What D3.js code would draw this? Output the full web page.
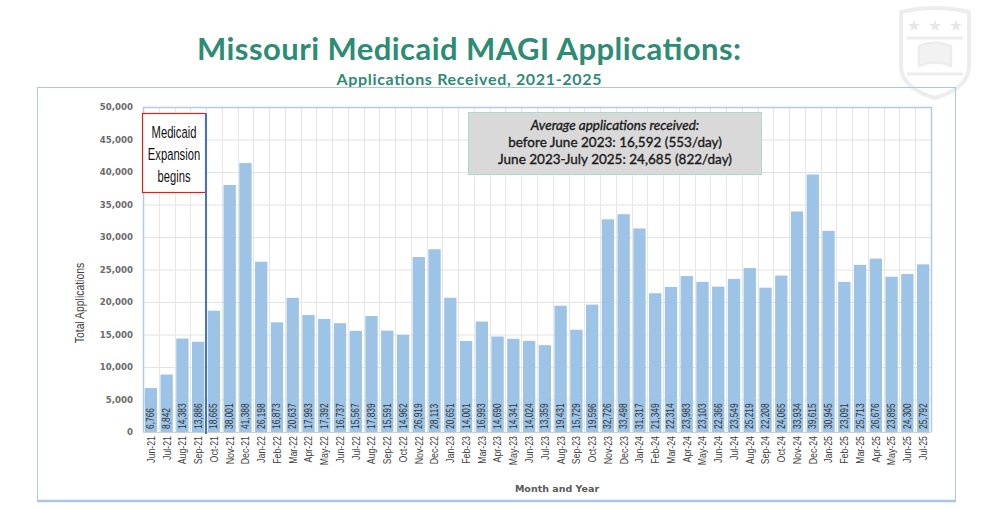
<!DOCTYPE html>
<html>
<head>
<meta charset="utf-8">
<script src="https://cdn.jsdelivr.net/npm/d3@7"></script>
<style>
  body { margin: 0; background: #fff; }
  svg { display: block; }
</style>
</head>
<body>
<svg id="chart" width="988" height="510"></svg>
<script>
// chart data
var months = ["Jun-21","Jul-21","Aug-21","Sep-21","Oct-21","Nov-21","Dec-21",
  "Jan-22","Feb-22","Mar-22","Apr-22","May-22","Jun-22","Jul-22","Aug-22","Sep-22","Oct-22","Nov-22","Dec-22",
  "Jan-23","Feb-23","Mar-23","Apr-23","May-23","Jun-23","Jul-23","Aug-23","Sep-23","Oct-23","Nov-23","Dec-23",
  "Jan-24","Feb-24","Mar-24","Apr-24","May-24","Jun-24","Jul-24","Aug-24","Sep-24","Oct-24","Nov-24","Dec-24",
  "Jan-25","Feb-25","Mar-25","Apr-25","May-25","Jun-25","Jul-25"];
var applications = [6766,8842,14383,13886,18665,38001,41388,
  26198,16873,20637,17993,17392,16737,15567,17839,15591,14962,26919,28113,
  20651,14001,16993,14690,14341,14024,13359,19431,15729,19596,32726,33498,
  31317,21349,22314,23983,23103,22366,23549,25219,22208,24065,33934,39615,
  30945,23091,25713,26676,23895,24300,25792];
var yTicks = [0,5000,10000,15000,20000,25000,30000,35000,40000,45000,50000];
var expansionMonth = "Oct-21";
var expansionLines = ["Medicaid","Expansion","begins"];
var avgLines = ["Average applications received:",
  "before June 2023: 16,592 (553/day)",
  "June 2023-July 2025: 24,685 (822/day)"];

// no narrow font here, so squeeze Liberation Sans horizontally
var narrow = "'Liberation Sans', Arial, sans-serif";
var squeeze = " scale(0.8,1)";
var svg = d3.select("#chart");

// faint logo top right
var logo = svg.append("g").attr("transform", "translate(897,6)")
  .attr("fill", "none").attr("stroke", "#ededed").attr("stroke-width", 4);
logo.append("path").attr("d", "M4,6 Q38,-2 72,6 L72,60 Q72,82 38,92 Q4,82 4,60 Z");
logo.append("path").attr("d", "M10,32 L66,32 M10,68 L66,68").attr("stroke-width", 3);
logo.append("path").attr("d", "M22,40 Q38,33 54,40 L54,60 Q38,53 22,60 Z").attr("fill", "#f2f2f2").attr("stroke-width", 2.5);
[17, 38, 59].forEach(function(cx){
  logo.append("path").attr("d", d3.symbol(d3.symbolStar, 45)()).attr("transform", "translate(" + cx + ",20)")
    .attr("fill", "#e6e6e6").attr("stroke", "none");
});

// titles
svg.append("text").attr("x", 469).attr("y", 60).attr("text-anchor", "middle")
  .style("font-family", "Lato, 'Open Sans', sans-serif").style("font-weight", "bold")
  .style("font-size", "31px").attr("fill", "#2e8b74").attr("textLength", 544)
  .text("Missouri Medicaid MAGI Applications:");
svg.append("text").attr("x", 469).attr("y", 85).attr("text-anchor", "middle")
  .style("font-family", "Lato, 'Open Sans', sans-serif").style("font-weight", "bold")
  .style("font-size", "16px").attr("fill", "#2e8b74").attr("textLength", 265)
  .text("Applications Received, 2021-2025");

// outer frame
svg.append("rect").attr("x", 37.5).attr("y", 87.5).attr("width", 918).attr("height", 414)
  .attr("fill", "none").attr("stroke", "#a9c6e3").attr("stroke-width", 1);
svg.append("line").attr("x1", 37).attr("x2", 956).attr("y1", 501).attr("y2", 501)
  .attr("stroke", "#a9c6e3").attr("stroke-width", 2.5);

var margin = {left: 143, right: 931, top: 107, bottom: 432};

var x = d3.scaleBand().domain(months).range([margin.left, margin.right])
  .paddingInner(0.22).paddingOuter(0.11);
var y = d3.scaleLinear().domain([0, 50000]).range([margin.bottom, margin.top]);
var step = x.step();
var x0 = margin.left;

// grid
var grid = svg.append("g");
grid.selectAll("line.h").data(yTicks.slice(1)).enter().append("line")
  .attr("x1", margin.left).attr("x2", margin.right)
  .attr("y1", function(d){ return y(d) + 0.5; }).attr("y2", function(d){ return y(d) + 0.5; })
  .attr("stroke", "#e3e3e3");
grid.selectAll("line.v").data(d3.range(1, months.length)).enter().append("line")
  .attr("x1", function(i){ return Math.round(x0 + i * step) + 0.5; })
  .attr("x2", function(i){ return Math.round(x0 + i * step) + 0.5; })
  .attr("y1", margin.top).attr("y2", margin.bottom)
  .attr("stroke", "#e6e6e6");

// plot border (left, top, right)
svg.append("path")
  .attr("d", "M" + (margin.left + 0.5) + "," + margin.bottom + "V" + (margin.top + 0.5) + "H" + (margin.right + 0.5) + "V" + margin.bottom)
  .attr("fill", "none").attr("stroke", "#b4cbe6").attr("stroke-width", 1.5);

// bars
svg.append("g").selectAll("rect").data(applications).enter().append("rect")
  .attr("x", function(d, i){ return x(months[i]); })
  .attr("width", x.bandwidth())
  .attr("y", function(d){ return y(d); })
  .attr("height", function(d){ return y(0) - y(d); })
  .attr("fill", "#9dc3e6");

// bottom axis line
svg.append("line").attr("x1", margin.left).attr("x2", margin.right)
  .attr("y1", margin.bottom + 0.5).attr("y2", margin.bottom + 0.5).attr("stroke", "#d0d0d0");

// value labels inside bars
svg.append("g").selectAll("text").data(applications).enter().append("text")
  .attr("transform", function(d, i){
    return "translate(" + (x(months[i]) + x.bandwidth() / 2 + 3.5) + "," + (margin.bottom - 3) + ") rotate(-90)" + squeeze;
  })
  .style("font-family", narrow).style("font-size", "10.5px").attr("fill", "#333")
  .text(d3.format(","));

// y axis
var yAxis = svg.append("g").attr("transform", "translate(" + (margin.left - 10) + ",0)")
  .call(d3.axisLeft(y).tickValues(yTicks).tickFormat(d3.format(",")).tickSize(0).tickPadding(0));
yAxis.select(".domain").remove();
yAxis.selectAll("text").style("font-family", "'DejaVu Sans', sans-serif").style("font-weight", "bold")
  .style("font-size", "8.6px").attr("fill", "#6b6b6b");

// x axis labels
var xAxis = svg.append("g").attr("transform", "translate(0," + (margin.bottom + 4) + ")")
  .call(d3.axisBottom(x).tickSize(0).tickPadding(0));
xAxis.select(".domain").remove();
xAxis.selectAll("text").attr("transform", "rotate(-90)" + squeeze).attr("text-anchor", "end")
  .attr("x", 0).attr("y", 0).attr("dy", "0.35em")
  .style("font-family", narrow).style("font-size", "11px").attr("fill", "#404040");

// axis titles
svg.append("text").attr("transform", "translate(84,303) rotate(-90)" + squeeze).attr("text-anchor", "middle")
  .style("font-family", narrow).style("font-size", "13px").attr("fill", "#404040")
  .text("Total Applications");
svg.append("text").attr("x", 557).attr("y", 492).attr("text-anchor", "middle")
  .style("font-family", "'DejaVu Sans', sans-serif").style("font-weight", "bold")
  .style("font-size", "9.5px").attr("fill", "#595959")
  .text("Month and Year");

// expansion marker
var ex = Math.round(x0 + months.indexOf(expansionMonth) * step);
svg.append("rect").attr("x", 142.5).attr("y", 113.5).attr("width", ex - 143).attr("height", 79)
  .attr("fill", "#fff").attr("stroke", "#e0201c").attr("stroke-width", 1.2);
svg.append("line").attr("x1", ex).attr("x2", ex).attr("y1", 113).attr("y2", 434)
  .attr("stroke", "#4472c4").attr("stroke-width", 2);
svg.append("g").selectAll("text").data(expansionLines).enter().append("text")
  .attr("transform", function(d, i){ return "translate(" + ((142 + ex) / 2) + "," + (138 + i * 22) + ") scale(0.68,1)"; })
  .attr("text-anchor", "middle").style("font-family", narrow).style("font-size", "16.5px")
  .attr("fill", "#111").text(function(d){ return d; });

// average annotation
svg.append("rect").attr("x", 468.5).attr("y", 112.5).attr("width", 293).attr("height", 62)
  .attr("fill", "#d9d9d9").attr("stroke", "#a8dcc9").attr("stroke-width", 1);
svg.append("g").selectAll("text").data(avgLines).enter().append("text")
  .attr("x", 615).attr("y", function(d, i){ return 130 + i * 17; })
  .attr("text-anchor", "middle").style("font-family", "Lato, sans-serif").style("font-size", "13.5px")
  .style("font-style", function(d, i){ return i === 0 ? "italic" : "normal"; })
  .attr("stroke", "#1a1a1a").attr("stroke-width", 0.35)
  .attr("fill", "#1a1a1a").text(function(d){ return d; });
</script>
</body>
</html>
